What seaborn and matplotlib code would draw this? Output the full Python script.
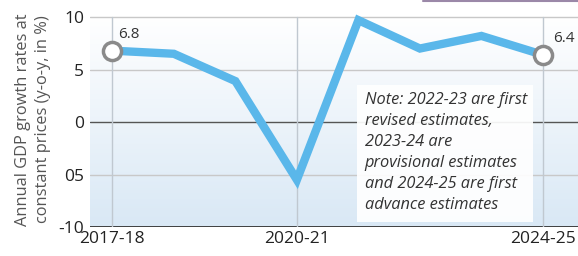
import numpy as np
import pandas as pd
import seaborn as sns
import matplotlib.pyplot as plt
from matplotlib.patches import Rectangle
from matplotlib.lines import Line2D

# GDP growth data
years = ["2017-18", "2018-19", "2019-20", "2020-21",
         "2021-22", "2022-23", "2023-24", "2024-25"]
growth = [6.8, 6.5, 3.9, -5.5, 9.7, 7.0, 8.2, 6.4]
y_ticks = [-10, -5, 0, 5, 10]
y_tick_labels = ["-10", "05", "0", "5", "10"]
x_tick_years = ["2017-18", "2020-21", "2024-25"]

df = pd.DataFrame({"year": years, "growth": growth})
df["pos"] = range(len(df))

sns.set_theme(style="white")
plt.rcParams["font.family"] = ["Open Sans", "DejaVu Sans"]

fig, ax = plt.subplots(figsize=(5.78, 2.56), dpi=100)
fig.subplots_adjust(left=0.155, right=1.0, top=0.954, bottom=0.113)

xlim = (-0.37, len(years) - 1 + 0.57)
ylim = (-10, 10.5)

# gradient background: white at top, light blue at bottom
grad = np.linspace(0, 1, 256).reshape(-1, 1)
cmap = sns.blend_palette(["#ffffff", "#d9e8f5"], as_cmap=True)
ax.imshow(grad, extent=[xlim[0], xlim[1], ylim[0], 10], aspect="auto",
          cmap=cmap, origin="upper", zorder=0)

# grid lines
for v in [10, 5, -5]:
    ax.axhline(v, color="#c8c8c8", lw=1, zorder=1)
ax.axhline(0, color="#555555", lw=1, zorder=1)
ax.axhline(-10, color="#333333", lw=1.3, zorder=1)
for yr in x_tick_years:
    ax.axvline(years.index(yr), ymax=(10 - ylim[0]) / (ylim[1] - ylim[0]),
               color="#c0c8d0", lw=1, zorder=1)

sns.lineplot(data=df, x="pos", y="growth", color="#5ab7ea", lw=6,
             solid_joinstyle="miter", ax=ax, zorder=3)

ends = df.iloc[[0, -1]]
sns.scatterplot(data=ends, x="pos", y="growth", s=170, color="white",
                edgecolor="#8a8a8a", linewidth=2.5, ax=ax, zorder=4)
ax.text(0.1, growth[0] + 0.8, f"{growth[0]}", fontsize=11, color="#333333",
        ha="left", va="bottom", zorder=5)
ax.text(len(years) - 1 + 0.17, growth[-1] + 0.8, f"{growth[-1]}", fontsize=11,
        color="#333333", ha="left", va="bottom", zorder=5)

# note box
ax.add_patch(Rectangle((3.97, -9.5), 2.87, 13.0, fc="white", ec="none",
                       alpha=0.92, zorder=4))
note = ("Note: 2022-23 are first\nrevised estimates,\n2023-24 are\n"
        "provisional estimates\nand 2024-25 are first\nadvance estimates")
ax.text(4.1, 2.9, note, fontsize=11.8, style="italic", color="#333333",
        ha="left", va="top", linespacing=1.42, zorder=5)

ax.set_xlim(xlim)
ax.set_ylim(ylim)
ax.set_xticks([years.index(y) for y in x_tick_years])
ax.set_xticklabels(x_tick_years, fontsize=12.5, color="#222222")
ax.set_yticks(y_ticks)
ax.set_yticklabels(y_tick_labels, fontsize=12.5, color="#222222")
ax.tick_params(axis="x", length=0, pad=3)
ax.tick_params(axis="y", length=0, pad=4)
ax.set_xlabel("")
ax.set_ylabel("Annual GDP growth rates at\nconstant prices (y-o-y, in %)",
              fontsize=11.8, color="#555555", linespacing=1.35, labelpad=5)
for s in ax.spines.values():
    s.set_visible(False)

# thin purple rule at top right (from the source crop)
fig.add_artist(Line2D([423 / 578, 1.0], [0.997, 0.997], color="#9b88a8", lw=1.5))

fig.savefig("out.png", dpi=100)
